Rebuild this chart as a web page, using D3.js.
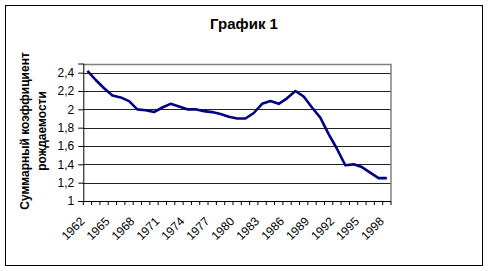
<!DOCTYPE html>
<html><head><meta charset="utf-8">
<script src="https://cdn.jsdelivr.net/npm/d3@7"></script>
<style>body{margin:0;background:#fff}svg{display:block}text{font-family:"Liberation Sans",Arial,sans-serif}</style>
</head><body>
<svg id="c" width="489" height="271"></svg>
<script>
const years = d3.range(1962, 1999).map(String);
const tfr = [2.42,2.32,2.23,2.15,2.13,2.09,2.00,1.99,1.97,2.02,2.06,2.03,2.00,2.00,1.98,1.97,1.95,1.92,1.90,1.90,1.96,2.06,2.09,2.06,2.12,2.20,2.14,2.02,1.91,1.73,1.57,1.39,1.40,1.37,1.31,1.25,1.25];
const yTicks = [1,1.2,1.4,1.6,1.8,2,2.2,2.4];
const xLabelYears = years.filter((d,i)=>i%3===0);
const title = "График 1";
const yTitle = ["Суммарный коэффициент","рождаемости"];

const svg = d3.select("#c");
const L=83.3,R=391,T=63.5,B=201;
svg.append("rect").attr("x",5.5).attr("y",5.5).attr("width",477).attr("height",260).attr("fill","#fff").attr("stroke","#000").attr("stroke-width",1);

const x = d3.scaleBand().domain(years).range([L,R]);
const y = d3.scaleLinear().domain([1,2.5]).range([B,T]);

// gridlines
svg.append("g").selectAll("line").data(yTicks.filter(v=>v>1)).join("line")
  .attr("x1",L).attr("x2",R).attr("y1",d=>Math.round(y(d))+0.5).attr("y2",d=>Math.round(y(d))+0.5)
  .attr("stroke","#222").attr("stroke-width",1);
// plot border top/right
svg.append("path").attr("d",`M${L},${Math.round(T)+0.5}H${R}V${B}`).attr("fill","none").attr("stroke","#808080").attr("stroke-width",1.5);

// y axis
const fmt = v => String(+v.toFixed(1)).replace(".",",");
const ya = svg.append("g").attr("transform",`translate(${L},0)`)
  .call(d3.axisLeft(y).tickValues(yTicks).tickFormat(fmt).tickSize(5).tickPadding(4));
ya.select(".domain").attr("stroke","#000");
ya.selectAll("text").attr("font-size",12).attr("fill","#000").style("font-family","'Liberation Sans',Arial,sans-serif");

// x axis: ticks at category boundaries
const xg = svg.append("g");
xg.append("line").attr("x1",L).attr("x2",R).attr("y1",B+0.5).attr("y2",B+0.5).attr("stroke","#000");
const bounds = years.map(d=>x(d)).concat([x(years[years.length-1])+x.bandwidth()]);
xg.selectAll("line.t").data(bounds).join("line").attr("class","t")
  .attr("x1",d=>d).attr("x2",d=>d).attr("y1",B).attr("y2",B+4).attr("stroke","#000");
xg.selectAll("text").data(xLabelYears).join("text")
  .attr("transform",d=>`translate(${x(d)+x.bandwidth()/2-5},${B+18}) rotate(-45)`)
  .attr("text-anchor","end").attr("dy","0.35em").attr("font-size",12).attr("fill","#000").text(d=>d);

// line
const line = d3.line().x((d,i)=>x(years[i])+x.bandwidth()/2).y(d=>y(d));
svg.append("path").datum(tfr).attr("d",line).attr("fill","none").attr("stroke","#000080").attr("stroke-width",2.6).attr("stroke-linejoin","round");

// title
svg.append("text").attr("x",244).attr("y",29).attr("text-anchor","middle").attr("font-size",15).attr("font-weight","bold").text(title);
// y title
const yt = svg.append("text").attr("transform","translate(33,131) rotate(-90)").attr("text-anchor","middle").attr("font-size",12).attr("font-weight","bold");
yt.append("tspan").attr("x",0).attr("y",-4).text(yTitle[0]);
yt.append("tspan").attr("x",0).attr("y",13).text(yTitle[1]);
</script>
</body></html>
